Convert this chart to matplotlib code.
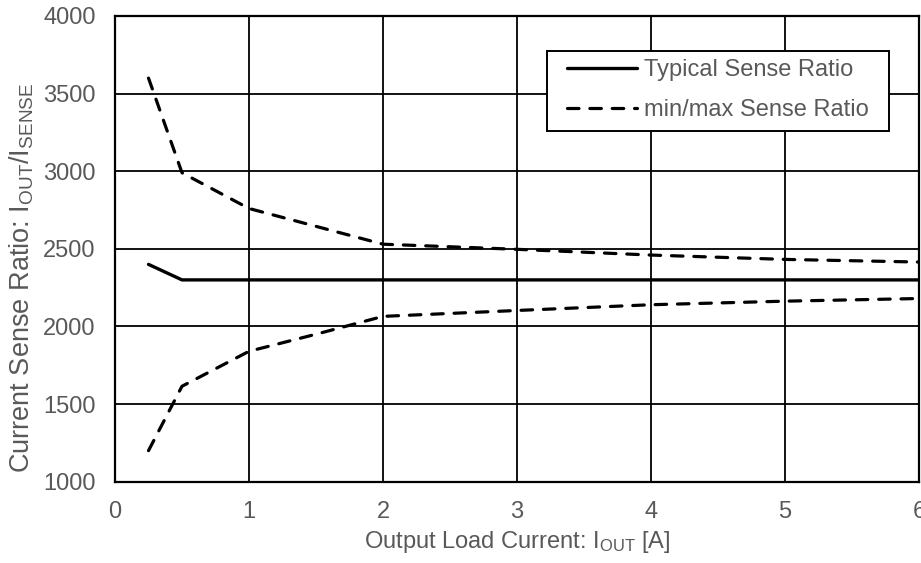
import matplotlib
matplotlib.use("Agg")
import matplotlib.pyplot as plt
from matplotlib.patches import Rectangle

plt.rcParams['font.family'] = ['Liberation Sans', 'DejaVu Sans']
plt.rcParams['mathtext.fontset'] = 'custom'
plt.rcParams['mathtext.rm'] = 'Liberation Sans'
plt.rcParams['mathtext.it'] = 'Liberation Sans'

# Data
x_typ = [0.25, 0.5, 1, 2, 3, 4, 5, 6]
y_typ = [2400, 2300, 2300, 2300, 2300, 2300, 2300, 2300]
x_mm = [0.25, 0.5, 1, 1.5, 2, 3, 4, 5, 6]
y_max = [3600, 2990, 2760, 2645, 2530, 2497, 2460, 2432, 2415]
y_min = [1200, 1615, 1840, 1950, 2065, 2103, 2140, 2163, 2180]
x_ticks = [0, 1, 2, 3, 4, 5, 6]
y_ticks = [1000, 1500, 2000, 2500, 3000, 3500, 4000]

gray = '#595959'
FS = 17

fig = plt.figure(figsize=(9.21, 5.63), dpi=100)
ax = fig.add_axes([115/921, (563-481.7)/563, 804/921, 465.7/563])

ax.plot(x_typ, y_typ, color='black', lw=2.4, solid_capstyle='round',
        label='Typical Sense Ratio', zorder=3)
ax.plot(x_mm, y_max, color='black', lw=2.3, dashes=(3.6, 3.4),
        dash_capstyle='round', label='min/max Sense Ratio', zorder=3)
ax.plot(x_mm, y_min, color='black', lw=2.3, dashes=(3.6, 3.4),
        dash_capstyle='round', zorder=3)

ax.set_xlim(0, 6)
ax.set_ylim(1000, 4000)
ax.set_xticks(x_ticks)
ax.set_yticks(y_ticks)
ax.grid(True, color='black', lw=1.3)
ax.set_axisbelow(True)
for s in ax.spines.values():
    s.set_linewidth(1.6)
    s.set_color('black')
ax.tick_params(length=0, pad=14, labelsize=FS, labelcolor=gray)

ax.set_xlabel(r'Output Load Current: I$_{\mathregular{OUT}}$ [A]', fontsize=FS, color=gray)
ax.set_ylabel(r'Current Sense Ratio: I$_{\mathregular{OUT}}$/I$_{\mathregular{SENSE}}$',
              fontsize=19.5, color=gray)
ax.xaxis.set_label_coords(0.5, -0.102)
ax.yaxis.set_label_coords(-0.098, 0.437)

# legend frame (drawn separately for asymmetric padding)
ax.add_patch(Rectangle((0.537, 0.753), 0.963 - 0.537, 0.9255 - 0.753,
                       transform=ax.transAxes, facecolor='white',
                       edgecolor='black', lw=1.4, zorder=4))
leg = ax.legend(loc='center left', bbox_to_anchor=(0.5618, 0.8408), fontsize=FS,
                frameon=False, handlelength=2.96, handletextpad=0.31,
                borderpad=0, labelspacing=0.79, borderaxespad=0)
leg.set_zorder(5)
for t in leg.get_texts():
    t.set_color(gray)

fig.savefig('out.png', dpi=100)
